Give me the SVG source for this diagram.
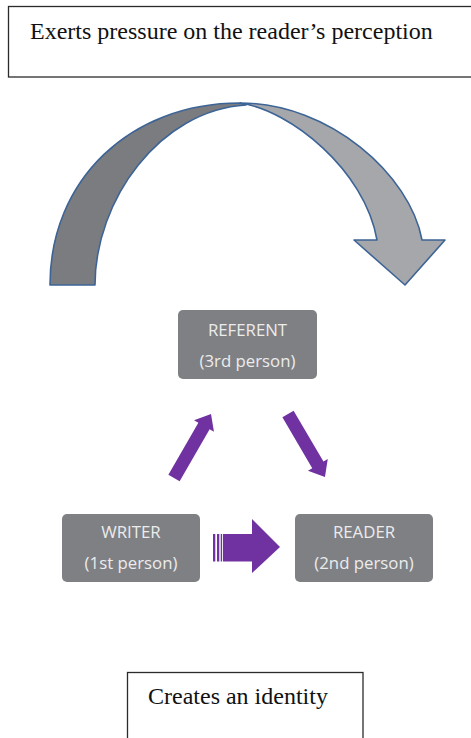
<svg xmlns="http://www.w3.org/2000/svg" width="471" height="738" viewBox="0 0 471 738">
<style>
.frame{fill:#fff;stroke:#2b2b2b;stroke-width:1.3}
.serif{font-family:"Liberation Serif","Times New Roman",serif;font-size:24px;fill:#111}
.node rect{fill:#7f8084}
.node text{font-family:"Open Sans","Noto Sans",sans-serif;font-size:16.8px;fill:#ececec;text-anchor:middle}
.band{stroke:#3d6496;stroke-width:1.6;stroke-linejoin:round}
.purple{fill:#7032a0}
</style>
<rect width="471" height="738" fill="#fff"/>
<g id="top-note">
<rect class="frame" x="8.5" y="6.5" width="470" height="70.5"/>
<text class="serif" x="30" y="39">Exerts pressure on the reader’s perception</text>
</g>
<g id="curved-arrow">
<path class="band" fill="#a6a7ab" d="M240,103 C330,103 410,175 422,240 L445,240 L405,285 L354,240 L377,240 C365,170 290,110 240,103 Z"/>
<path class="band" fill="#7b7c80" d="M50,285 C50,180 130,103 240,103 C242,104 244,104 246,105 C160,110 95,200 95,285 Z"/>
</g>
<g id="referent" class="node">
<rect x="178" y="310" width="139" height="69" rx="5"/>
<text x="247.5" y="336">REFERENT</text>
<text x="247.5" y="367">(3rd person)</text>
</g>
<g id="writer" class="node">
<rect x="62" y="514" width="138" height="68" rx="5"/>
<text x="131" y="538">WRITER</text>
<text x="131" y="569">(1st person)</text>
</g>
<g id="reader" class="node">
<rect x="295" y="514" width="138" height="68" rx="5"/>
<text x="364" y="538">READER</text>
<text x="364" y="569">(2nd person)</text>
</g>
<g id="connectors" class="purple">
<path transform="translate(174,478) rotate(-60)" d="M0,-6.5 L60,-6.5 L60,-11.5 L74,0 L60,11.5 L60,6.5 L0,6.5 Z"/>
<path transform="translate(288,414) rotate(59.6)" d="M0,-6.5 L59,-6.5 L59,-11.5 L73,0 L59,11.5 L59,6.5 L0,6.5 Z"/>
<g id="striped-arrow">
<rect x="213" y="534" width="2.3" height="27.5"/>
<rect x="217" y="534" width="2.3" height="27.5"/>
<rect x="220.7" y="534" width="1.4" height="27.5"/>
<path d="M223,534 L252,534 L252,519 L280,547 L252,573 L252,561.5 L223,561.5 Z"/>
</g>
</g>
<g id="bottom-note">
<rect class="frame" x="127.5" y="672.5" width="235.5" height="80"/>
<text class="serif" x="148" y="704">Creates an identity</text>
</g>
</svg>
